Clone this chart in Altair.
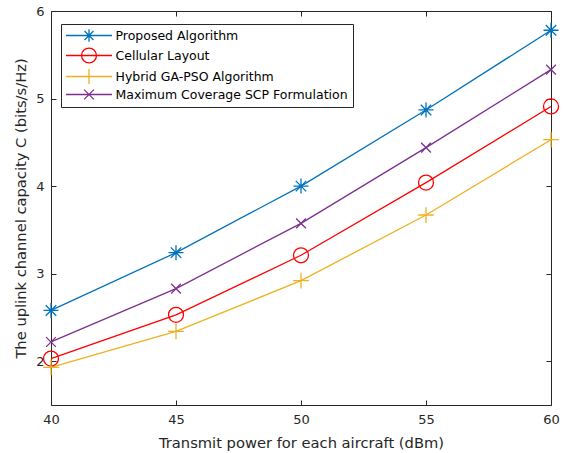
import altair as alt
import pandas as pd

# ---- data ----
power = [40, 45, 50, 55, 60]
series_names = [
    "Proposed Algorithm",
    "Cellular Layout",
    "Hybrid GA-PSO Algorithm",
    "Maximum Coverage SCP Formulation",
]
proposed = [2.58, 3.24, 4.00, 4.87, 5.78]
cellular = [2.03, 2.53, 3.21, 4.04, 4.91]
hybrid = [1.93, 2.34, 2.92, 3.67, 4.53]
maxcov = [2.22, 2.83, 3.575, 4.44, 5.33]
x_ticks = [40, 45, 50, 55, 60]
y_ticks = [2, 3, 4, 5, 6]

# ---- styles ----
colors = ["#0072BD", "#FF0000", "#EDB120", "#7E2F8E"]
marker_paths = [
    "M-1 0L1 0M0 -1L0 1M-0.7 -0.7L0.7 0.7M-0.7 0.7L0.7 -0.7",  # asterisk
    "M1 0A1 1 0 1 1 -1 0A1 1 0 1 1 1 0",  # circle
    "M-1.05 0L1.05 0M0 -1.05L0 1.05",  # plus
    "M-0.65 -0.65L0.65 0.65M-0.65 0.65L0.65 -0.65",  # x
]
legend_paths = [
    "M-4 0L4 0M-1.1 0L1.1 0M0 -1.1L0 1.1M-0.78 -0.78L0.78 0.78M-0.78 0.78L0.78 -0.78",
    "M-4 0L4 0M1.3 0A1.3 1.3 0 1 1 -1.3 0A1.3 1.3 0 1 1 1.3 0",
    "M-4 0L4 0M0 -1.3L0 1.3",
    "M-4 0L4 0M-0.85 -0.85L0.85 0.85M-0.85 0.85L0.85 -0.85",
]
FONT = "DejaVu Sans"
AX = "#262626"

rows = []
for name, vals in zip(series_names, [proposed, cellular, hybrid, maxcov]):
    for p, v in zip(power, vals):
        rows.append({"power": p, "capacity": v, "series": name})
df = pd.DataFrame(rows)

xscale = alt.Scale(domain=[40, 60], nice=False, zero=False)
yscale = alt.Scale(domain=[1.5, 6], nice=False, zero=False)
cscale = alt.Scale(domain=series_names, range=colors)

font_axis = dict(
    labelFont=FONT, labelColor=AX, labelFontSize=13, labelFlush=False,
    labelOverlap=False, titleFont=FONT, titleFontSize=14.7,
    titleFontWeight="normal", titleColor=AX, grid=False,
)


def frame_axis(orient, values, labels, title=None, **kw):
    """Axis line (domain) with labels / title, no ticks."""
    return alt.Axis(orient=orient, values=values, labels=labels, title=title,
                    domain=True, domainColor=AX, domainWidth=1, ticks=False,
                    **font_axis, **kw)


def tick_axis(orient, values):
    """Inward ticks: an axis shifted 5px into the plot with 5px outward ticks."""
    return alt.Axis(orient=orient, values=values, labels=False, title=None,
                    domain=False, ticks=True, tickSize=5, tickColor=AX,
                    tickWidth=1, offset=-5, grid=False)


leg = alt.Legend(
    title=None, orient="none", legendX=10, legendY=13, padding=5,
    strokeColor=AX, fillColor="white", symbolOffset=16.5, labelOffset=20,
    labelFont=FONT, labelFontSize=12.5, labelColor="#000", rowPadding=0,
    labelLimit=0, symbolSize=132, symbolStrokeWidth=1.3, symbolOpacity=1,
    labelExpr="datum.label + '  '")

base = alt.Chart(df)

# axis assignment per layer: (x axis, y axis)
axis_plan = [
    (frame_axis("bottom", x_ticks, True, "Transmit power for each aircraft (dBm)",
                labelPadding=8, titlePadding=9),
     frame_axis("left", y_ticks, True, "The uplink channel capacity C (bits/s/Hz)",
                labelPadding=7, titlePadding=7)),
    (frame_axis("top", x_ticks, False), frame_axis("right", y_ticks, False)),
    (tick_axis("bottom", x_ticks), tick_axis("left", y_ticks)),
    (tick_axis("top", x_ticks), tick_axis("right", y_ticks)),
    (None, None),
]

layers = []
lines = base.mark_line(strokeWidth=1.3).encode(
    x=alt.X("power:Q", scale=xscale, axis=axis_plan[0][0]),
    y=alt.Y("capacity:Q", scale=yscale, axis=axis_plan[0][1]),
    color=alt.Color("series:N", scale=cscale, legend=leg),
    order="power:Q",
)
layers.append(lines)

for i, name in enumerate(series_names):
    xa, ya = axis_plan[i + 1]
    m = base.transform_filter(alt.datum.series == name).mark_point(
        shape=marker_paths[i], size=225, filled=False, strokeWidth=1.3, opacity=1
    ).encode(
        x=alt.X("power:Q", scale=xscale, axis=xa),
        y=alt.Y("capacity:Q", scale=yscale, axis=ya),
        color=alt.Color("series:N", scale=cscale, legend=leg),
    )
    layers.append(m)

legend_layer = base.mark_point(
    filled=False, strokeWidth=1.3, opacity=0
).encode(
    x=alt.X("power:Q", scale=xscale, axis=None),
    y=alt.Y("capacity:Q", scale=yscale, axis=None),
    color=alt.Color("series:N", scale=cscale, legend=leg),
    shape=alt.Shape("series:N", scale=alt.Scale(domain=series_names, range=legend_paths),
                    legend=leg),
)
layers.append(legend_layer)

chart = alt.layer(*layers).resolve_axis(x="independent", y="independent").properties(
    width=500, height=394,
    autosize=alt.AutoSizeParams(type="none"),
    padding={"left": 51, "top": 11, "right": 12, "bottom": 48},
).configure_view(stroke=None).configure(background="white")

chart.save("out.html", embed_options={"renderer": "svg", "actions": False})
